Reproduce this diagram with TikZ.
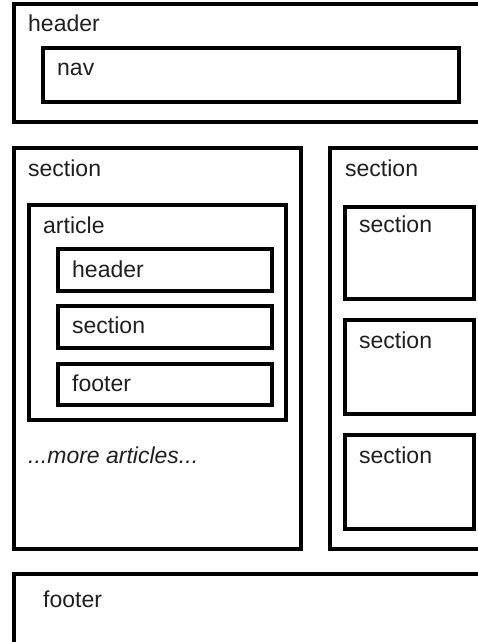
\documentclass[tikz,border=0pt]{standalone}
\usepackage{fontspec}
\setmainfont{Liberation Sans}
\begin{document}
\begin{tikzpicture}[x=1pt,y=-1pt,
	box/.style={draw=black,line width=3.6pt},
	lbl/.style={anchor=base west,inner sep=0pt,text=black!88,font=\fontsize{23}{27}\selectfont}]
	\clip (0,0) rectangle (478,642);
	\useasboundingbox (0,0) rectangle (478,642);
	% page header
	\draw [box] (14,4) rectangle (520,122);
	\node (hdr) [lbl] at (28,32) {header};
	\draw [box] (43,48) rectangle (459,102);
	\node (nav) [lbl] at (57,75) {nav};
	% left column
	\draw [box] (14,148) rectangle (301,549);
	\node (lsec) [lbl] at (28,176) {section};
	\draw [box] (29,205) rectangle (286,420);
	\node (art) [lbl] at (43,233) {article};
	\draw [box] (58,249) rectangle (272,291);
	\node (arthdr) [lbl] at (72,277) {header};
	\draw [box] (58,306) rectangle (272,348);
	\node (artsec) [lbl] at (72,333) {section};
	\draw [box] (58,364) rectangle (272,405);
	\node (artftr) [lbl] at (72,391) {footer};
	\node (more) [lbl,font=\fontsize{23}{27}\selectfont\itshape] at (28,463) {...more articles...};
	% right column
	\draw [box] (330,148) rectangle (520,549);
	\node (rsec) [lbl] at (345,176) {section};
	\foreach \t/\b/\y/\n in {207/299/232/1,320/414/348/2,435/529/463/3}
	{
	\draw [box] (345,\t) rectangle (474,\b);
	\node (rsec\n) [lbl] at (359,\y) {section};
	}
	% page footer
	\draw [box] (14,574) rectangle (520,700);
	\node (ftr) [lbl] at (43,607) {footer};
\end{tikzpicture}
\end{document}
